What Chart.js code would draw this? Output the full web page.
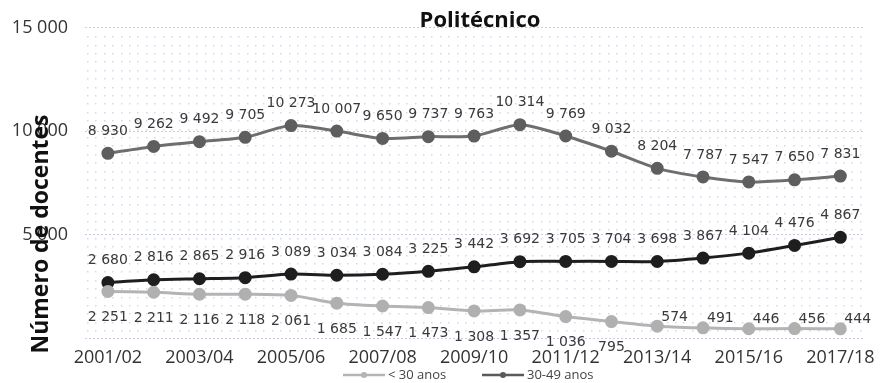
<!DOCTYPE html>
<html>
<head>
<meta charset="utf-8">
<script src="https://cdn.jsdelivr.net/npm/chart.js@4.4.1/dist/chart.umd.min.js"></script>
<style>
  html, body { margin: 0; padding: 0; background: #ffffff; }
  #wrap { width: 884px; height: 383px; position: relative; }
</style>
</head>
<body>
<div id="wrap"><canvas id="chart" width="884" height="383"></canvas></div>
<script>
// Academic years
const years = ['2001/02','2002/03','2003/04','2004/05','2005/06','2006/07','2007/08','2008/09',
  '2009/10','2010/11','2011/12','2012/13','2013/14','2014/15','2015/16','2016/17','2017/18'];

// Teaching staff by age group
const under30 = [2251, 2211, 2116, 2118, 2061, 1685, 1547, 1473, 1308, 1357, 1036, 795, 574, 491, 446, 456, 444];
const age30to49 = [8930, 9262, 9492, 9705, 10273, 10007, 9650, 9737, 9763, 10314, 9769, 9032, 8204, 7787, 7547, 7650, 7831];
const age50plus = [2680, 2816, 2865, 2916, 3089, 3034, 3084, 3225, 3442, 3692, 3705, 3704, 3698, 3867, 4104, 4476, 4867];

// Y axis ticks
const yTicks = [0, 5000, 10000, 15000];

// Where each value label sits relative to its point
const placeUnder30 = ['below','below','below','below','below','below','below','below','below','below','below','below',
  'right','right','right','right','right'];
const placeAbove = years.map(() => 'above');

const fmt = v => String(v).replace(/\B(?=(\d{3})+(?!\d))/g, ' ');

// Dotted fill behind the plot
const dottedBackground = {
  id: 'dottedBackground',
  beforeDraw(chart) {
    const { ctx, chartArea: a } = chart;
    ctx.save();
    ctx.fillStyle = '#ffffff';
    ctx.fillRect(0, 0, chart.width, chart.height);
    ctx.fillStyle = 'rgba(175,182,222,0.55)';
    const step = 8.4;
    for (let y = a.top + step; y < a.bottom - 2; y += step) {
      for (let x = a.left + 2; x < a.right; x += step) {
        ctx.fillRect(Math.round(x), Math.round(y), 1.5, 1.5);
      }
    }
    ctx.restore();
  }
};

// Value labels next to each point
const valueLabels = {
  id: 'valueLabels',
  afterDatasetsDraw(chart) {
    const { ctx } = chart;
    ctx.save();
    ctx.font = '14px "DejaVu Sans", sans-serif';
    ctx.fillStyle = '#3a3a3a';
    chart.data.datasets.forEach((ds, di) => {
      const meta = chart.getDatasetMeta(di);
      meta.data.forEach((pt, i) => {
        const txt = fmt(ds.data[i]);
        const where = ds.labelPlacement[i];
        if (where === 'above') {
          ctx.textAlign = 'center'; ctx.textBaseline = 'middle';
          ctx.fillText(txt, pt.x, pt.y - 22);
        } else if (where === 'below') {
          ctx.textAlign = 'center'; ctx.textBaseline = 'middle';
          ctx.fillText(txt, pt.x, pt.y + 26);
        } else {
          ctx.textAlign = 'left'; ctx.textBaseline = 'middle';
          ctx.fillText(txt, pt.x + 4, pt.y - 9);
        }
      });
    });
    ctx.restore();
  }
};

// Title, vertical axis title and legend
const decorations = {
  id: 'decorations',
  afterDraw(chart) {
    const { ctx, chartArea: a } = chart;
    ctx.save();
    ctx.fillStyle = '#111111';
    ctx.font = 'bold 22px "Open Sans", sans-serif';
    ctx.textAlign = 'center'; ctx.textBaseline = 'middle';
    ctx.fillText('Politécnico', 480, 21);

    ctx.save();
    ctx.translate(41, 234);
    ctx.rotate(-Math.PI / 2);
    ctx.font = 'bold 23px "Open Sans", sans-serif';
    ctx.fillText('Número de docentes', 0, 0);
    ctx.restore();

    const items = [
      { x: 343, text: '< 30 anos', color: '#b4b4b4' },
      { x: 482, text: '30-49 anos', color: '#5a5a5a' }
    ];
    const ly = 375;
    items.forEach(it => {
      ctx.strokeStyle = it.color; ctx.lineWidth = 2.5;
      ctx.beginPath(); ctx.moveTo(it.x, ly); ctx.lineTo(it.x + 42, ly); ctx.stroke();
      ctx.fillStyle = it.color;
      ctx.beginPath(); ctx.arc(it.x + 21, ly, 3, 0, Math.PI * 2); ctx.fill();
      ctx.fillStyle = '#444444';
      ctx.font = '13px "Open Sans", sans-serif';
      ctx.textAlign = 'left'; ctx.textBaseline = 'middle';
      ctx.fillText(it.text, it.x + 45, ly);
    });
    ctx.restore();
  }
};

const line = (label, data, color, pointColor, placement) => ({
  label, data,
  borderColor: color, backgroundColor: pointColor,
  pointBackgroundColor: pointColor, pointBorderColor: pointColor,
  borderWidth: 3, pointRadius: 5, pointHoverRadius: 5,
  tension: 0.25, fill: false,
  labelPlacement: placement
});

new Chart(document.getElementById('chart'), {
  type: 'line',
  data: {
    labels: years,
    datasets: [
      line('< 30 anos', under30, '#b4b4b4', '#b0b0b0', placeUnder30),
      line('30-49 anos', age30to49, '#6e6e6e', '#5e5e5e', placeAbove),
      line('≥ 50 anos', age50plus, '#1e1e1e', '#1e1e1e', placeAbove)
    ]
  },
  options: {
    responsive: false,
    animation: false,
    events: [],
    layout: { padding: { top: 20, right: 16, left: 0, bottom: 0 } },
    plugins: { legend: { display: false }, title: { display: false }, tooltip: { enabled: false } },
    scales: {
      x: {
        offset: true,
        grid: { display: false, drawTicks: false },
        border: { display: false },
        ticks: {
          autoSkip: false, maxRotation: 0, padding: 9,
          color: '#333333',
          font: { family: '"Open Sans", sans-serif', size: 18 },
          callback: (v, i) => (i % 2 === 0 ? years[i] : '')
        },
        afterFit: s => { s.height = 45; }
      },
      y: {
        min: yTicks[0], max: yTicks[yTicks.length - 1],
        afterBuildTicks: s => { s.ticks = yTicks.map(v => ({ value: v })); },
        grid: { color: '#c8cce3', lineWidth: 1, drawTicks: false },
        border: { display: false, dash: [2, 2] },
        ticks: {
          padding: 17, color: '#333333',
          font: { family: '"Open Sans", sans-serif', size: 18 },
          callback: v => (v === 0 ? '' : fmt(v))
        },
        afterFit: s => { s.width = 85; }
      }
    }
  },
  plugins: [dottedBackground, valueLabels, decorations]
});
</script>
</body>
</html>
